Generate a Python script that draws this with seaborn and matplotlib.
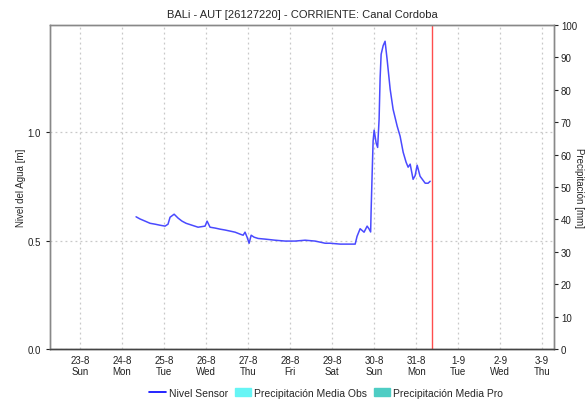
import pandas as pd
import matplotlib
matplotlib.use("Agg")
import matplotlib.pyplot as plt
import matplotlib.dates as mdates
from matplotlib.lines import Line2D
from matplotlib.patches import Patch
import seaborn as sns

# Nivel Sensor readings (time, metres)
times = [
    "2020-08-24 08:00", "2020-08-24 10:15", "2020-08-24 13:10", "2020-08-24 16:00",
    "2020-08-24 18:50", "2020-08-24 21:45", "2020-08-25 00:35", "2020-08-25 02:15",
    "2020-08-25 03:25", "2020-08-25 05:45", "2020-08-25 08:00", "2020-08-25 10:15",
    "2020-08-25 12:35", "2020-08-25 16:00", "2020-08-25 19:25", "2020-08-25 23:25",
    "2020-08-26 00:35", "2020-08-26 02:15", "2020-08-26 05:10", "2020-08-26 08:00",
    "2020-08-26 10:50", "2020-08-26 13:45", "2020-08-26 16:35", "2020-08-26 19:25",
    "2020-08-26 21:10", "2020-08-26 22:15", "2020-08-26 23:25", "2020-08-27 00:35",
    "2020-08-27 01:45", "2020-08-27 03:25", "2020-08-27 05:45", "2020-08-27 09:45",
    "2020-08-27 15:25", "2020-08-27 21:10", "2020-08-28 02:50", "2020-08-28 08:35",
    "2020-08-28 14:15", "2020-08-28 17:10", "2020-08-28 20:00", "2020-08-28 22:50",
    "2020-08-29 04:35", "2020-08-29 13:10", "2020-08-29 14:15", "2020-08-29 16:00",
    "2020-08-29 18:15", "2020-08-29 20:00", "2020-08-29 21:10", "2020-08-29 22:00",
    "2020-08-29 22:15", "2020-08-29 22:50", "2020-08-29 23:25", "2020-08-30 00:00",
    "2020-08-30 01:10", "2020-08-30 02:00", "2020-08-30 02:50", "2020-08-30 03:25",
    "2020-08-30 04:00", "2020-08-30 05:10", "2020-08-30 06:15", "2020-08-30 07:25",
    "2020-08-30 09:10", "2020-08-30 10:50", "2020-08-30 13:10", "2020-08-30 14:50",
    "2020-08-30 16:35", "2020-08-30 18:15", "2020-08-30 19:25", "2020-08-30 20:35",
    "2020-08-30 22:15", "2020-08-30 23:25", "2020-08-31 00:35", "2020-08-31 02:15",
    "2020-08-31 05:10", "2020-08-31 06:50", "2020-08-31 08:00",
]
nivel = [
    0.61, 0.60, 0.59, 0.58, 0.576, 0.571, 0.567, 0.576,
    0.608, 0.622, 0.604, 0.59, 0.58, 0.571, 0.562, 0.567,
    0.59, 0.562, 0.558, 0.553, 0.549, 0.544, 0.539, 0.530,
    0.525, 0.539, 0.516, 0.488, 0.525, 0.516, 0.51, 0.507,
    0.502, 0.498, 0.498, 0.502, 0.498, 0.493, 0.488, 0.488,
    0.484, 0.484, 0.52, 0.555, 0.539, 0.567, 0.553, 0.54,
    0.63, 0.80, 0.96, 1.01, 0.95, 0.93, 1.06, 1.25,
    1.36, 1.40, 1.42, 1.336, 1.198, 1.106, 1.028, 0.982,
    0.908, 0.862, 0.839, 0.853, 0.783, 0.80, 0.848, 0.797,
    0.765, 0.765, 0.774,
]
# no precipitation recorded in the window
precip_obs = []
precip_pro = []

ahora = pd.Timestamp("2020-08-31 08:50")
x_ini = pd.Timestamp("2020-08-22 06:50")
x_fin = pd.Timestamp("2020-09-03 06:45")

df = pd.DataFrame({"fecha": pd.to_datetime(times), "nivel": nivel})

sns.set_style("white")
plt.rcParams["font.family"] = ["Liberation Sans", "DejaVu Sans"]

fig = plt.figure(figsize=(5.88, 4.06), dpi=100)
ax = fig.add_axes([50 / 588, 1 - 350 / 406, 504 / 588, 324 / 406])
ax2 = ax.twinx()

sns.lineplot(data=df, x="fecha", y="nivel", ax=ax, color="#4a4aff", lw=1.1)
ax.axvline(ahora, color="#ff4d4d", lw=1.0)

ax.set_xlim(x_ini, x_fin)
ax.set_ylim(0, 1.495)
ax.set_yticks([0.0, 0.5, 1.0])
ax.yaxis.set_major_formatter(plt.FormatStrFormatter("%.1f"))
ax2.set_ylim(0, 100)
ax2.set_yticks(range(0, 101, 10))

ax.xaxis.set_major_locator(mdates.DayLocator())
ax.xaxis.set_major_formatter(
    plt.FuncFormatter(lambda v, p: f"{mdates.num2date(v).day}-{mdates.num2date(v).month}\n{mdates.num2date(v):%a}")
)

ax.grid(True, color="#c8c8c8", linestyle=(0, (1.5, 2.5)), lw=0.9)
ax.set_xlabel("")
ax.set_ylabel("Nivel del Agua [m]", fontsize=7, labelpad=1)
ax2.set_ylabel("Precipitación [mm]", fontsize=7, rotation=-90, labelpad=5)

ax.tick_params(axis="x", length=0, labelsize=7, pad=4, colors="#222222")
ax.tick_params(axis="y", length=3, labelsize=7, colors="#222222", left=True)
ax2.tick_params(axis="y", length=3, labelsize=7, colors="#222222", right=True, pad=2)

for a in (ax, ax2):
    for s in ("left", "right", "top"):
        a.spines[s].set_color("#888888")
        a.spines[s].set_linewidth(1.0)
    a.spines["bottom"].set_color("#444444")
    a.spines["bottom"].set_linewidth(1.0)
    a.spines["bottom"].set_linestyle((0, (1, 1)))

ax.set_title("BALi - AUT [26127220] - CORRIENTE: Canal Cordoba", fontsize=8, pad=6)

handles = [
    Line2D([], [], color="#0000ff", lw=1.2),
    Patch(color="#66f5f5"),
    Patch(color="#4ecdc4"),
]
labels = ["Nivel Sensor", "Precipitación Media Obs", "Precipitación Media Pro"]
fig.legend(handles, labels, loc="lower center", bbox_to_anchor=(0.555, -0.005), ncol=3,
           frameon=False, fontsize=7.5, handlelength=1.6, handletextpad=0.3,
           columnspacing=0.6, handleheight=0.9)

fig.savefig("out.png", dpi=100)
